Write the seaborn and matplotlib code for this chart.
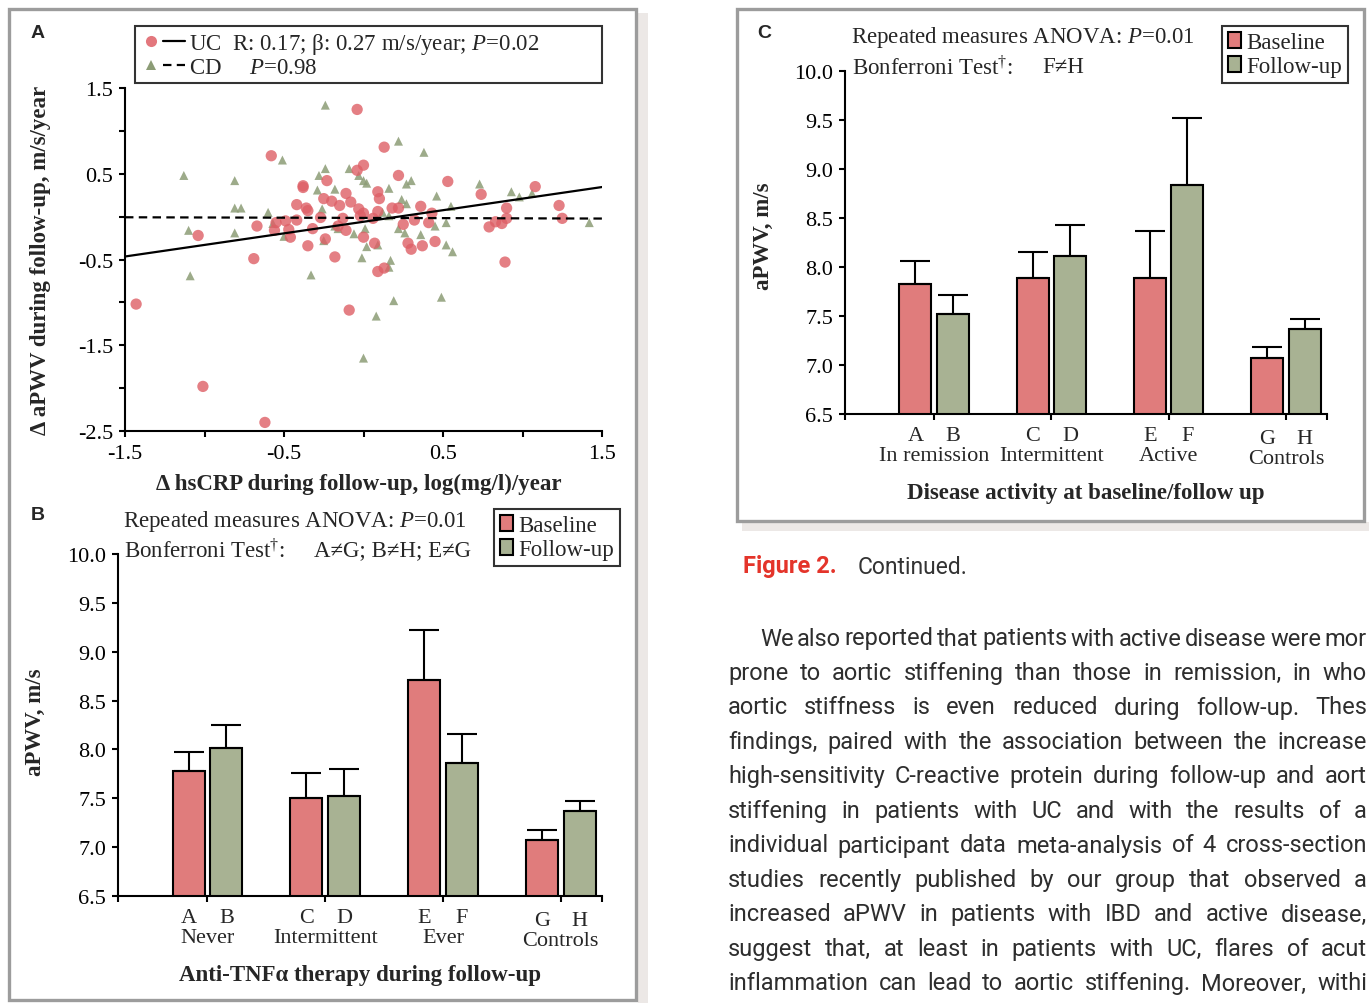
import matplotlib
matplotlib.use('Agg')
import matplotlib.pyplot as plt
import matplotlib.transforms as mtransforms
import numpy as np
import pandas as pd
import seaborn as sns
from matplotlib import font_manager
from matplotlib.lines import Line2D
from matplotlib.patches import Patch, Rectangle
from matplotlib.legend_handler import HandlerTuple

# ---- panel A: change in hsCRP vs change in aPWV ----
uc_x = [-0.04, 0.13, -0.58, 0.00, -0.04, 0.22, 0.53, -0.23, -0.38, -0.38, 1.08, 0.74,
        -0.11, 0.09, 0.10, -0.25, -0.20, -0.42, -0.15, -0.08, 0.36, 1.23, 0.90, -0.36,
        -0.35, 0.18, 0.22, -0.03, 0.00, 0.09, -0.02, 0.43, -0.27, -0.13, 0.06, -0.42,
        -0.49, 0.32, 0.41, 0.90, 0.83, 0.87, 0.79, 1.25, 0.25, -0.67, -0.55, -0.56,
        -0.47, -0.32, -0.16, -0.11, -1.04, -0.46, -0.24, 0.00, 0.07, 0.28, 0.30, 0.37,
        0.45, -0.35, -0.69, -0.18, 0.89, 0.13, 0.09, -1.43, -0.09, -1.01, -0.62]
uc_y = [1.25, 0.81, 0.71, 0.60, 0.54, 0.48, 0.41, 0.42, 0.36, 0.34, 0.35, 0.26,
        0.27, 0.29, 0.21, 0.21, 0.18, 0.14, 0.13, 0.17, 0.12, 0.13, 0.10, 0.10,
        0.07, 0.10, 0.10, 0.09, 0.04, 0.06, 0.01, 0.04, -0.01, -0.02, -0.02, -0.04,
        -0.05, -0.04, -0.07, -0.02, -0.06, -0.08, -0.12, -0.02, -0.09, -0.11, -0.07, -0.16,
        -0.15, -0.14, -0.11, -0.16, -0.22, -0.24, -0.26, -0.24, -0.31, -0.31, -0.38, -0.34,
        -0.29, -0.34, -0.49, -0.47, -0.53, -0.60, -0.64, -1.02, -1.09, -1.98, -2.40]
cd_x = [-0.24, 0.22, 0.38, -0.51, -1.13, -0.81, -0.24, -0.09, -0.28, -0.03, 0.00, 0.02,
        0.30, 0.27, 0.73, 0.16, -0.29, -0.18, 0.93, 1.06, 0.98, 0.46, 0.24, 0.27,
        -0.81, -0.77, 0.55, -0.60, -0.26, 0.12, 0.16, -1.10, -0.81, -0.57, -0.50, -0.18,
        -0.16, -0.06, 0.01, 0.52, 0.45, 0.22, 0.26, 0.36, 1.42, 0.52, 0.56, -0.25,
        0.02, -0.01, 0.17, 0.16, -0.33, -1.09, 0.49, 0.19, 0.08, 0.00, 0.09]
cd_y = [1.30, 0.88, 0.75, 0.66, 0.48, 0.42, 0.56, 0.56, 0.48, 0.48, 0.42, 0.39,
        0.42, 0.38, 0.38, 0.33, 0.31, 0.32, 0.29, 0.27, 0.23, 0.24, 0.20, 0.15,
        0.10, 0.10, 0.12, 0.05, 0.09, 0.05, 0.01, -0.16, -0.19, -0.08, -0.23, -0.11,
        -0.14, -0.20, -0.14, -0.07, -0.11, -0.14, -0.19, -0.21, -0.07, -0.33, -0.41, -0.28,
        -0.35, -0.48, -0.51, -0.59, -0.68, -0.69, -0.94, -0.98, -1.16, -1.65, -0.33]
# regression lines (intercept, slope)
uc_fit = (-0.06, 0.27)
cd_fit = (-0.015, -0.005)
a_xticks = [-1.5, -1.0, -0.5, 0.0, 0.5, 1.0, 1.5]
a_xlabels = ['-1.5', '', '-0.5', '', '0.5', '', '1.5']
a_yticks = [-2.5, -2.0, -1.5, -1.0, -0.5, 0.0, 0.5, 1.0, 1.5]
a_ylabels = ['-2.5', '', '-1.5', '', '-0.5', '', '0.5', '', '1.5']

# ---- panel B: anti-TNF therapy ----
b_groups = ['Never', 'Intermittent', 'Ever', 'Controls']
b_letters = ['A', 'B', 'C', 'D', 'E', 'F', 'G', 'H']
b_base = [7.78, 7.50, 8.71, 7.07]
b_base_err = [0.19, 0.26, 0.51, 0.11]
b_fu = [8.01, 7.52, 7.86, 7.37]
b_fu_err = [0.24, 0.28, 0.30, 0.10]

# ---- panel C: disease activity ----
c_groups = ['In remission', 'Intermittent', 'Active', 'Controls']
c_letters = ['A', 'B', 'C', 'D', 'E', 'F', 'G', 'H']
c_base = [7.83, 7.885, 7.89, 7.07]
c_base_err = [0.23, 0.265, 0.48, 0.11]
c_fu = [7.525, 8.115, 8.84, 7.365]
c_fu_err = [0.185, 0.31, 0.68, 0.10]

bar_yticks = [6.5, 7.0, 7.5, 8.0, 8.5, 9.0, 9.5, 10.0]

# body text as far as the page shows it (the column runs past the right edge)
body_lines = [
    "We also reported that patients with active disease were mor",
    "prone to aortic stiffening than those in remission, in who",
    "aortic stiffness is even reduced during follow-up. Thes",
    "findings, paired with the association between the increase",
    "high-sensitivity C-reactive protein during follow-up and aort",
    "stiffening in patients with UC and with the results of a",
    "individual participant data meta-analysis of 4 cross-section",
    "studies recently published by our group that observed a",
    "increased aPWV in patients with IBD and active disease,",
    "suggest that, at least in patients with UC, flares of acut",
    "inflammation can lead to aortic stiffening. Moreover, withi",
]

RED_PT = '#DE5F66'
GREEN_PT = '#8C9C76'
RED_BAR = '#E07C7C'
GREEN_BAR = '#A8B293'
FRAME = '#9C9C9C'

W, H = 1369, 1004

sns.set_style('ticks')
plt.rcParams['font.family'] = ['Liberation Serif', 'DejaVu Serif']
plt.rcParams['mathtext.fontset'] = 'custom'
plt.rcParams['mathtext.rm'] = 'Liberation Serif'
plt.rcParams['mathtext.it'] = 'Liberation Serif:italic'
plt.rcParams['mathtext.bf'] = 'Liberation Serif:bold'
plt.rcParams['axes.unicode_minus'] = False
plt.rcParams['axes.linewidth'] = 1.5
plt.rcParams['axes.edgecolor'] = 'black'
for ax_ in ('xtick', 'ytick'):
    plt.rcParams[ax_ + '.major.width'] = 1.5
    plt.rcParams[ax_ + '.major.size'] = 4.5
    plt.rcParams[ax_ + '.color'] = 'black'
    plt.rcParams[ax_ + '.labelsize'] = 16
    plt.rcParams[ax_ + '.direction'] = 'out'

names = {f.name for f in font_manager.fontManager.ttflist}
body_font = 'Liberation Sans Narrow' if 'Liberation Sans Narrow' in names else 'Roboto'


def fx(px):
    return px / W


def fy(py):
    return 1 - py / H


fig = plt.figure(figsize=(W / 100, H / 100), dpi=100)
fig.patch.set_facecolor('white')

# page frames and shadows
fig.patches.append(Rectangle((fx(638), fy(1004)), 10 / W, 990 / H, transform=fig.transFigure,
                             facecolor='#ECE8E6', edgecolor='none', zorder=0))
fig.patches.append(Rectangle((fx(742), fy(532)), 627 / W, 9 / H, transform=fig.transFigure,
                             facecolor='#ECE8E6', edgecolor='none', zorder=0))
fig.patches.append(Rectangle((fx(9), fy(1001)), 627 / W, 991.5 / H, transform=fig.transFigure,
                             fill=False, edgecolor=FRAME, linewidth=2.4, zorder=0))
fig.patches.append(Rectangle((fx(736.5), fy(521.5)), 627 / W, 512 / H, transform=fig.transFigure,
                             fill=False, edgecolor=FRAME, linewidth=2.4, zorder=0))

# ---------------- panel A ----------------
ax_a = fig.add_axes([fx(125), fy(432), 477 / W, 343 / H])
sns.scatterplot(x=cd_x, y=cd_y, marker='^', s=42, color=GREEN_PT, alpha=0.85,
                edgecolor='none', ax=ax_a, zorder=2)
sns.scatterplot(x=uc_x, y=uc_y, marker='o', s=66, color=RED_PT, alpha=0.8,
                edgecolor='none', ax=ax_a, zorder=3)
xx = np.array([-1.5, 1.5])
ax_a.plot(xx, uc_fit[0] + uc_fit[1] * xx, color='black', lw=1.6, zorder=4)
ax_a.plot(xx, cd_fit[0] + cd_fit[1] * xx, color='black', lw=1.6, ls=(0, (3.8, 2.4)), zorder=4)
ax_a.set_xlim(-1.5, 1.5)
ax_a.set_ylim(-2.5, 1.5)
ax_a.set_xticks(a_xticks)
ax_a.set_xticklabels(a_xlabels)
ax_a.set_yticks(a_yticks)
ax_a.set_yticklabels(a_ylabels)
ax_a.tick_params(axis='x', pad=5)
ax_a.tick_params(axis='y', pad=4)
sns.despine(ax=ax_a)
ax_a.set_xlabel('\u0394 hsCRP during follow-up, log(mg/l)/year', fontsize=16.5, fontweight='bold')
ax_a.set_ylabel('\u0394 aPWV during follow-up, m/s/year', fontsize=16.5, fontweight='bold')
ax_a.xaxis.set_label_coords(0.49, -0.153)
ax_a.xaxis.label.set_va('center')
ax_a.yaxis.set_label_coords(-0.178, 0.5)
ax_a.yaxis.label.set_va('center')

uc_handle = (Line2D([], [], marker='o', ls='none', color=RED_PT, markersize=8, alpha=0.85, markeredgewidth=0),
             Line2D([], [], color='black', lw=1.6))
cd_handle = (Line2D([], [], marker='^', ls='none', color=GREEN_PT, markersize=6.5, markeredgewidth=0),
             Line2D([], [], color='black', lw=1.6, ls=(0, (3.8, 2.4))))
leg_a = ax_a.legend([uc_handle, cd_handle],
                    ['UC  R: 0.17; \u03b2: 0.27 m/s/year; $P$=0.02', 'CD     $P$=0.98'],
                    handler_map={tuple: HandlerTuple(ndivide=2, pad=0)},
                    loc='upper left', bbox_to_anchor=(fx(135), fy(82), 467 / W, 55 / H),
                    bbox_transform=fig.transFigure, mode='expand', fontsize=16.5,
                    handlelength=2.0, handletextpad=0.15, labelspacing=0.08, borderpad=0.2,
                    borderaxespad=0, frameon=True, fancybox=False)
leg_a.get_frame().set_edgecolor('black')
leg_a.get_frame().set_linewidth(1.5)


# ---------------- bar panels ----------------
def bar_panel(ax, groups, letters, base, base_err, fu, fu_err, xlabel, leg_xy):
    df = pd.DataFrame({'group': groups * 2,
                       'time': ['Baseline'] * len(groups) + ['Follow-up'] * len(groups),
                       'value': base + fu})
    sns.barplot(data=df, x='group', y='value', hue='time', order=groups,
                hue_order=['Baseline', 'Follow-up'], palette=[RED_BAR, GREEN_BAR],
                width=0.64, gap=0.15, edgecolor='black', linewidth=1.5, saturation=1,
                errorbar=None, legend=False, ax=ax, zorder=2)
    bars = sorted(ax.patches, key=lambda p: p.get_x())
    errs = [e for pair in zip(base_err, fu_err) for e in pair]
    xs = [p.get_x() + p.get_width() / 2 for p in bars]
    hs = [p.get_height() for p in bars]
    ax.errorbar(xs, hs, yerr=[np.zeros(len(errs)), errs], fmt='none', ecolor='black',
                elinewidth=1.5, capsize=11, capthick=1.5, zorder=3)
    ax.set_xlim(-0.76, 3.35)
    ax.set_ylim(6.5, 10.0)
    ax.set_yticks(bar_yticks)
    ax.set_yticklabels([f'{v:.1f}' for v in bar_yticks])
    ax.set_xticks([-0.76, 0, 1, 2, 3, 3.35])
    ax.set_xticklabels([''] * 6)
    ax.tick_params(axis='y', pad=4)
    sns.despine(ax=ax)
    tr = mtransforms.blended_transform_factory(ax.transData, ax.transAxes)
    for i, (x, letter) in enumerate(zip(xs, letters)):
        dy = -0.01 if i >= 6 else 0
        ax.text(x, -0.062 + dy, letter, transform=tr, ha='center', va='center', fontsize=16)
    for i, g in enumerate(groups):
        dy = -0.01 if i == 3 else 0
        ax.text(i, -0.12 + dy, g, transform=tr, ha='center', va='center', fontsize=16)
    ax.set_xlabel(xlabel, fontsize=16.5, fontweight='bold')
    ax.xaxis.set_label_coords(0.5, -0.23)
    ax.xaxis.label.set_va('center')
    ax.set_ylabel('aPWV, m/s', fontsize=16.5, fontweight='bold')
    ax.yaxis.label.set_va('center')
    handles = [Patch(facecolor=RED_BAR, edgecolor='black', linewidth=1.5),
               Patch(facecolor=GREEN_BAR, edgecolor='black', linewidth=1.5)]
    leg = ax.legend(handles, ['Baseline', 'Follow-up'], loc='upper left',
                    bbox_to_anchor=leg_xy, bbox_transform=fig.transFigure, fontsize=16.5,
                    handlelength=0.6, handleheight=0.7, handletextpad=0.2,
                    labelspacing=0.14, borderpad=0.25, borderaxespad=0,
                    frameon=True, fancybox=False)
    leg.get_frame().set_edgecolor('black')
    leg.get_frame().set_linewidth(1.5)


ax_b = fig.add_axes([fx(118), fy(897), 484 / W, 342 / H])
bar_panel(ax_b, b_groups, b_letters, b_base, b_base_err, b_fu, b_fu_err,
          'Anti-TNF\u03b1 therapy during follow-up', (fx(494), fy(510)))
ax_b.yaxis.set_label_coords(-0.171, 0.51)

ax_c = fig.add_axes([fx(845), fy(415), 482 / W, 343 / H])
bar_panel(ax_c, c_groups, c_letters, c_base, c_base_err, c_fu, c_fu_err,
          'Disease activity at baseline/follow up', (fx(1222), fy(27)))
ax_c.yaxis.set_label_coords(-0.170, 0.52)

# annotations
fig.text(fx(123), fy(521), 'Repeated measures ANOVA: $P$=0.01', fontsize=16.5, va='center')
fig.text(fx(124), fy(551), 'Bonferroni Test$^{\\dagger}$:', fontsize=16.5, va='center')
fig.text(fx(314), fy(551), 'A\u2260G; B\u2260H; E\u2260G', fontsize=16.5, va='center')
fig.text(fx(851), fy(38), 'Repeated measures ANOVA: $P$=0.01', fontsize=16.5, va='center')
fig.text(fx(852), fy(68), 'Bonferroni Test$^{\\dagger}$:', fontsize=16.5, va='center')
fig.text(fx(1042), fy(68), 'F\u2260H', fontsize=16.5, va='center')

for letter, px, py in [('A', 38, 33), ('B', 38, 516), ('C', 764, 34)]:
    fig.text(fx(px), fy(py), letter, family=['Liberation Sans', 'DejaVu Sans'],
             fontweight='bold', fontsize=14, ha='center', va='center')

# caption and body text
fig.text(fx(743), fy(567), 'Figure 2.', family=[body_font, 'DejaVu Sans'], fontweight='bold',
         fontsize=17, color='#E4342A', va='center')
fig.text(fx(858), fy(567), 'Continued.', family=[body_font, 'DejaVu Sans'],
         fontsize=16.5, color='#333333', va='center')

renderer = fig.canvas.get_renderer()
right_edge = 1367
for i, line in enumerate(body_lines):
    y = 639 + i * 34.5
    x0 = 760 if i == 0 else 728
    words = line.split()
    texts = [fig.text(0, fy(y), w, family=[body_font, 'DejaVu Sans'], fontsize=17,
                      color='#2E2E2E', va='center', ha='left') for w in words]
    widths = [t.get_window_extent(renderer).width for t in texts]
    gap = (right_edge - x0 - sum(widths)) / (len(words) - 1)
    gap = max(gap, 3)
    x = x0
    for t, w in zip(texts, widths):
        t.set_x(fx(x))
        x += w + gap

fig.savefig('out.png', dpi=100)
